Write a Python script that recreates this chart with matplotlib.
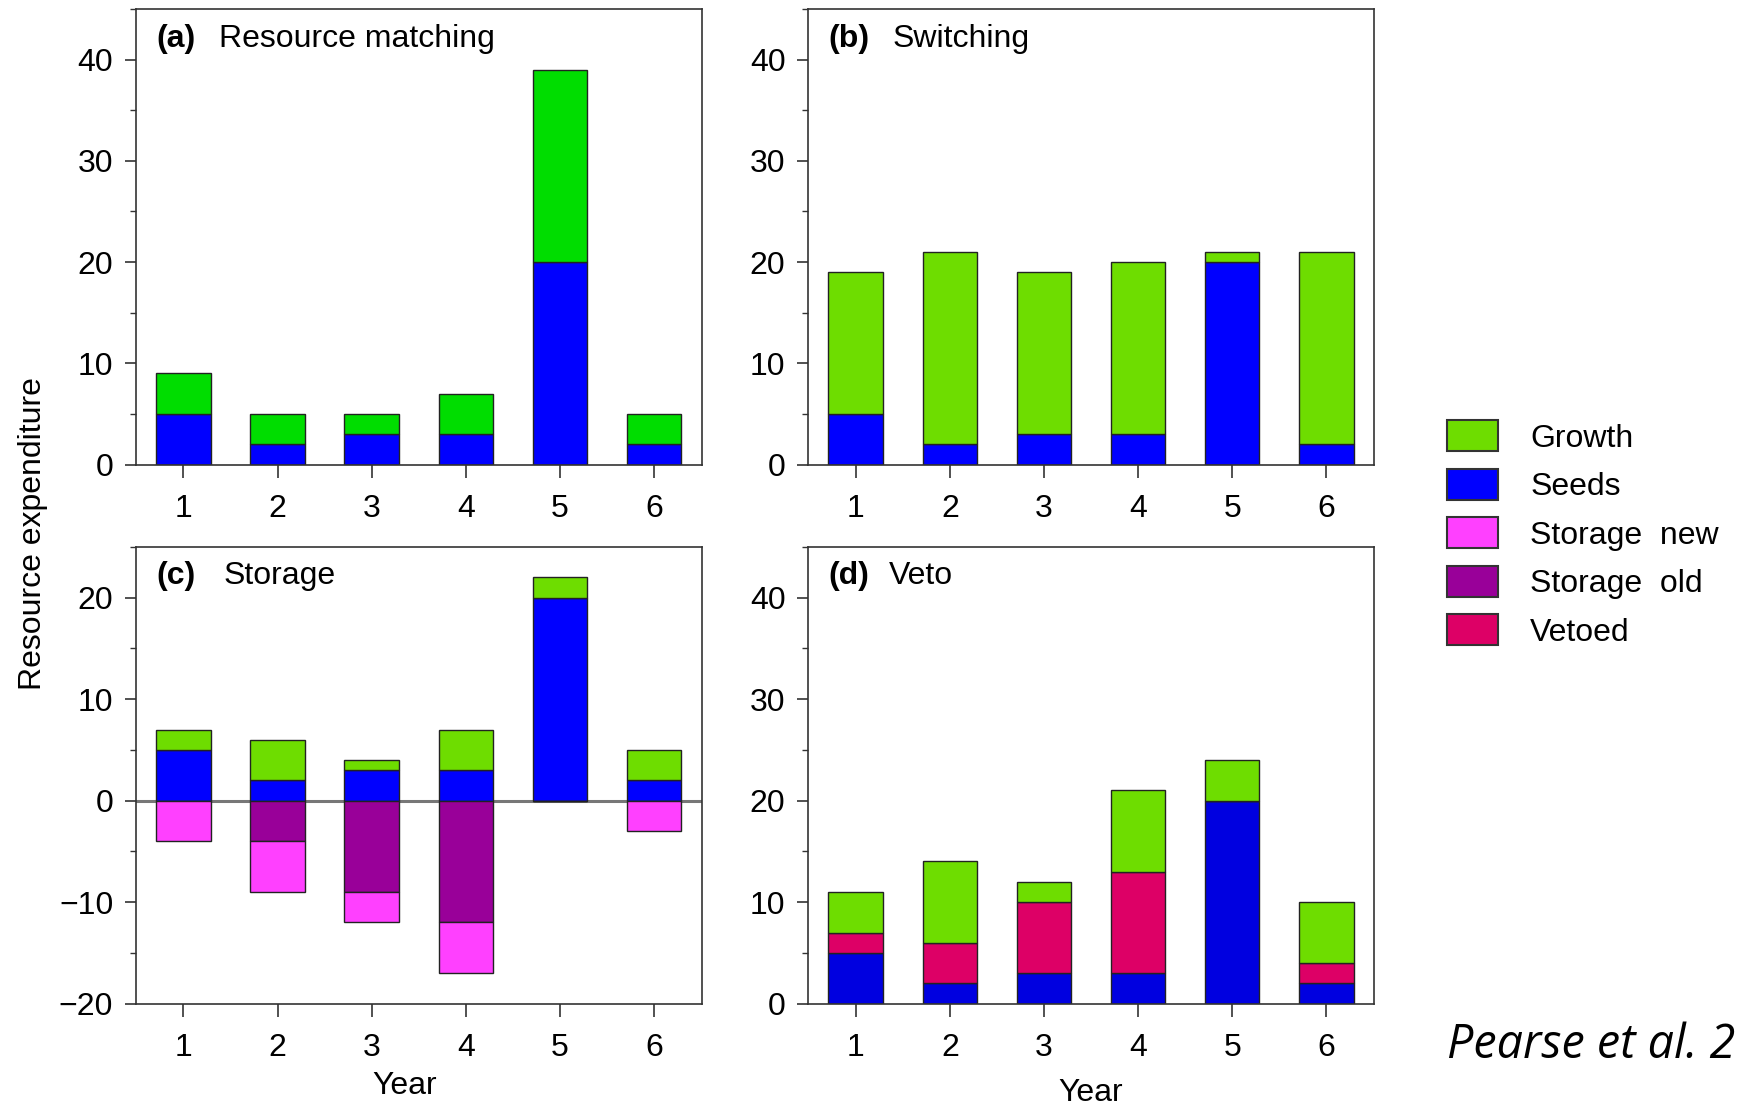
import matplotlib
matplotlib.use("Agg")
import matplotlib.pyplot as plt
from matplotlib.patches import Patch
from matplotlib.ticker import MultipleLocator

plt.rcParams['font.family'] = ['Liberation Sans', 'DejaVu Sans']

years = [1, 2, 3, 4, 5, 6]
year_labels = ['1', '2', '3', '4', '5', '6']

# (a) Resource matching
a_seeds = [5, 2, 3, 3, 20, 2]
a_growth = [4, 3, 2, 4, 19, 3]
# (b) Switching
b_seeds = [5, 2, 3, 3, 20, 2]
b_growth = [14, 19, 16, 17, 1, 19]
# (c) Storage
c_seeds = [5, 2, 3, 3, 20, 2]
c_growth = [2, 4, 1, 4, 2, 3]
c_storage_old = [0, -4, -9, -12, 0, 0]
c_storage_new = [-4, -5, -3, -5, 0, -3]
# (d) Veto
d_seeds = [5, 2, 3, 3, 20, 2]
d_vetoed = [2, 4, 7, 10, 0, 2]
d_growth = [4, 8, 2, 8, 4, 6]

legend_labels = ['Growth', 'Seeds', 'Storage  new', 'Storage  old', 'Vetoed']

GREEN_A = '#00DD00'
GREEN = '#6EDD00'
BLUE = '#0000FF'
BLUE_D = '#0000E0'
ST_NEW = '#FF40FF'
ST_OLD = '#990099'
VETO = '#DD0066'
EDGE = '#222222'

W, H = 1742, 1107
fig = plt.figure(figsize=(W / 100, H / 100), dpi=100)

def px_axes(left, right, top, bottom):
    return fig.add_axes([left / W, 1 - bottom / H, (right - left) / W, (bottom - top) / H])

ax_a = px_axes(135.5, 702, 9, 464.5)
ax_b = px_axes(807.7, 1374.3, 9, 464.5)
ax_c = px_axes(135.5, 702, 546.8, 1003.6)
ax_d = px_axes(807.7, 1374.3, 546.8, 1003.6)

BW = 0.58
FS = 23
bar_kw = dict(width=BW, edgecolor=EDGE, linewidth=1.0)

def style(ax, ylim, yticks):
    ax.set_xlim(0.49, 6.51)
    ax.set_ylim(*ylim)
    ax.set_yticks(yticks)
    ax.yaxis.set_minor_locator(MultipleLocator(5))
    ax.set_xticks(years)
    ax.set_xticklabels(year_labels)
    for s in ax.spines.values():
        s.set_color('#333333')
        s.set_linewidth(1.2)
    ax.tick_params(axis='both', which='major', direction='out', labelsize=FS,
                   width=1.2, color='#333333')
    ax.tick_params(axis='y', which='major', length=8, pad=8)
    ax.tick_params(axis='y', which='minor', direction='out', length=4.5, width=1.0, color='#333333')
    ax.tick_params(axis='x', which='major', length=9.5, pad=11.5)

def panel_title(ax, tag, title, xt=0.15):
    ax.text(0.037, 0.935, tag, transform=ax.transAxes, fontsize=FS, fontweight='bold',
            va='center', ha='left')
    ax.text(xt, 0.935, title, transform=ax.transAxes, fontsize=FS, va='center', ha='left')

# (a)
ax_a.bar(years, a_seeds, color=BLUE, **bar_kw)
ax_a.bar(years, a_growth, bottom=a_seeds, color=GREEN_A, **bar_kw)
style(ax_a, (0, 45), [0, 10, 20, 30, 40])
panel_title(ax_a, '(a)', 'Resource matching', 0.147)

# (b)
ax_b.bar(years, b_seeds, color=BLUE, **bar_kw)
ax_b.bar(years, b_growth, bottom=b_seeds, color=GREEN, **bar_kw)
style(ax_b, (0, 45), [0, 10, 20, 30, 40])
panel_title(ax_b, '(b)', 'Switching', 0.149)

# (c)
ax_c.axhline(0, color='#777777', linewidth=2.2, zorder=0.5)
ax_c.bar(years, c_seeds, color=BLUE, **bar_kw)
ax_c.bar(years, c_growth, bottom=c_seeds, color=GREEN, **bar_kw)
ax_c.bar(years, c_storage_old, color=ST_OLD, **bar_kw)
ax_c.bar(years, c_storage_new, bottom=c_storage_old, color=ST_NEW, **bar_kw)
style(ax_c, (-20, 25), [-20, -10, 0, 10, 20])
panel_title(ax_c, '(c)', 'Storage', 0.155)
ax_c.set_xlabel('Year', fontsize=FS, labelpad=6, x=0.475)

# (d)
d_bottom_growth = [s + v for s, v in zip(d_seeds, d_vetoed)]
ax_d.bar(years, d_seeds, color=BLUE_D, **bar_kw)
ax_d.bar(years, d_vetoed, bottom=d_seeds, color=VETO, **bar_kw)
ax_d.bar(years, d_growth, bottom=d_bottom_growth, color=GREEN, **bar_kw)
style(ax_d, (0, 45), [0, 10, 20, 30, 40])
panel_title(ax_d, '(d)', 'Veto', 0.144)
ax_d.set_xlabel('Year', fontsize=FS, labelpad=11)

fig.text(0.019, 0.518, 'Resource expenditure', rotation=90, fontsize=FS,
         ha='center', va='center')

handles = [Patch(facecolor=c, edgecolor='#333333', linewidth=1.5)
           for c in [GREEN, BLUE, ST_NEW, ST_OLD, VETO]]
fig.legend(handles, legend_labels, loc='center left',
           bbox_to_anchor=(1447 / W, 1 - 534 / H), frameon=False, borderpad=0,
           borderaxespad=0, handlelength=1.6, handleheight=1.1, labelspacing=0.48,
           handletextpad=1.0, fontsize=FS)

fig.text(1447 / W, 1 - 1058 / H, 'Pearse et al. 2', fontsize=33.6, style='italic',
         family=['Open Sans', 'DejaVu Sans'], ha='left', va='baseline')

fig.savefig('out.png', dpi=100)
